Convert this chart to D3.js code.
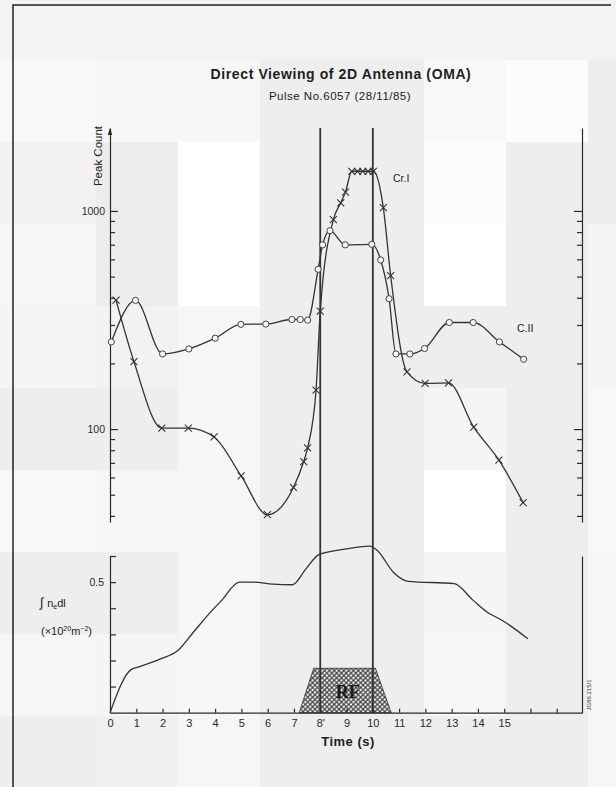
<!DOCTYPE html>
<meta charset="utf-8">
<script src="https://d3js.org/d3.v7.min.js"></script>

<div id="chart"></div>

<style>
  body { margin: 0; background: #f3f3f3; }
  svg { display: block; font-family: "Liberation Sans", Arial, sans-serif; }
  .axis path, .axis line { stroke: #2a2a2a; stroke-width: 1.2px; }
  .axis text { fill: #2a2a2a; font-size: 11px; }
</style>

<script>
  // Cr I peak count (crosses)
  const crTime = [0.23, 0.91, 1.97, 2.98, 3.96, 4.99, 5.99, 6.98, 7.37, 7.52, 7.84, 8.0, 8.5, 8.78, 8.96,
    9.2, 9.42, 9.62, 9.82, 10.02, 10.4, 10.68, 11.3, 11.99, 12.88, 13.84, 14.8, 15.72];
  const crCount = [390, 204, 101, 101, 92, 61, 40.5, 54, 71, 82, 151, 347, 912, 1090, 1220,
    1520, 1520, 1520, 1520, 1520, 1035, 505, 183, 162, 163, 102, 72, 46];

  // C II peak count (circles)
  const c2Time = [0.05, 0.97, 2.0, 3.0, 4.0, 4.98, 5.93, 6.92, 7.24, 7.52, 7.92, 8.09, 8.37, 8.95,
    9.96, 10.3, 10.62, 10.88, 11.41, 11.97, 12.91, 13.82, 14.82, 15.74];
  const c2Count = [251, 389, 221, 233, 261, 302, 303, 318, 318, 316, 540, 699, 812, 699,
    703, 596, 396, 221, 221, 234, 308, 308, 251, 209];

  // line density integral, 10^20 m^-2
  const neTime = [0, 0.8, 1.15, 1.92, 2.58, 3.15, 3.85, 4.25, 4.92, 5.45, 6.2, 6.94, 7.45, 7.95,
    8.85, 9.9, 10.18, 10.8, 11.35, 13.1, 13.8, 14.4, 14.9, 15.9];
  const neValue = [0, 0.165, 0.177, 0.206, 0.238, 0.305, 0.388, 0.43, 0.5, 0.5, 0.492, 0.49, 0.55, 0.605,
    0.625, 0.638, 0.62, 0.536, 0.503, 0.494, 0.432, 0.382, 0.355, 0.283];

  // RF pulse envelope
  const rfTime = [7.2, 7.75, 10.1, 10.7];
  const rfLevel = [0, 0.17, 0.17, 0];
  const rfEdges = [8, 10];

  const xTickLabels = ["0", "1", "2", "3", "4", "5", "6", "7", "8'", "9", "10", "11", "12", "13", "14", "15"];
  const countMajor = [100, 1000];
  const countMinor = [40, 50, 60, 70, 80, 90, 200, 300, 400, 500, 600, 700, 800, 900];
  const densTicks = [0.1, 0.2, 0.3, 0.4, 0.5, 0.6];

  // blotchy grey blocks of the scanned page (grey levels)
  const bgShade = [
    [243, 243, 243, 243, 243, 243, 243, 243],
    [248, 246, 247, 238, 238, 248, 252, 238],
    [242, 236, 255, 238, 238, 252, 238, 238],
    [246, 236, 255, 238, 238, 255, 238, 244],
    [245, 242, 246, 238, 238, 238, 238, 245],
    [238, 238, 246, 238, 238, 245, 238, 248],
    [248, 246, 246, 238, 238, 255, 238, 248],
    [238, 238, 246, 238, 238, 245, 238, 246],
    [246, 245, 246, 238, 238, 246, 238, 246],
    [238, 240, 246, 238, 238, 238, 238, 246]
  ];

  const width = 616, height = 787;

  const svg = d3.select("#chart")
    .append("svg")
    .attr("width", width)
    .attr("height", height);

  // background
  bgShade.forEach((row, i) => {
    row.forEach((g, j) => {
      svg.append("rect")
        .attr("x", j === 0 ? 0 : 14 + 82 * j)
        .attr("y", -22 + 82 * i)
        .attr("width", j === 0 ? 96 : 82)
        .attr("height", 82)
        .attr("fill", d3.rgb(g, g, g));
    });
  });

  // page frame
  svg.append("path")
    .attr("d", "M13,787V5H611")
    .attr("fill", "none")
    .attr("stroke", "#222")
    .attr("stroke-width", 1.5);

  // scales
  const x = d3.scaleLinear().domain([0, 17.96]).range([110, 582]);
  const yTop = d3.scaleLog().domain([37.5, 2400]).range([522, 128]);
  const yBot = d3.scaleLinear().domain([0, 0.6]).range([712.7, 556]);

  // hatch for RF box
  const defs = svg.append("defs");
  const pat = defs.append("pattern")
    .attr("id", "hatch")
    .attr("width", 3.4)
    .attr("height", 3.4)
    .attr("patternUnits", "userSpaceOnUse")
    .attr("patternTransform", "rotate(45)");
  pat.append("rect").attr("width", 3.4).attr("height", 3.4).attr("fill", "#4a4a4a");
  pat.append("circle").attr("cx", 1.7).attr("cy", 1.7).attr("r", 1.2).attr("fill", "#f2f2f2");

  const rfPts = rfTime.map((t, i) => [t, rfLevel[i]]);
  svg.append("path")
    .attr("d", d3.line().x(d => x(d[0])).y(d => yBot(d[1]))(rfPts) + "Z")
    .attr("fill", "url(#hatch)")
    .attr("stroke", "#333")
    .attr("stroke-width", 0.8);

  svg.append("text")
    .attr("x", x(9.05))
    .attr("y", 698)
    .attr("text-anchor", "middle")
    .style("font-family", "'Liberation Serif', 'DejaVu Serif', serif")
    .style("font-weight", "bold")
    .style("font-size", "18px")
    .attr("fill", "#1a1a1a")
    .text("RF");

  // RF on / off lines
  svg.selectAll(".rfline")
    .data(rfEdges)
    .join("line")
    .attr("x1", d => x(d)).attr("x2", d => x(d))
    .attr("y1", yTop(2400)).attr("y2", yBot(0))
    .attr("stroke", "#333")
    .attr("stroke-width", 1.8);

  // x axis
  svg.append("g")
    .attr("class", "axis")
    .attr("transform", `translate(0,${yBot(0)})`)
    .call(d3.axisBottom(x)
      .tickValues(d3.range(0, 18))
      .tickSize(-4)
      .tickSizeOuter(0)
      .tickPadding(7)
      .tickFormat(d => d < xTickLabels.length ? xTickLabels[d] : ""));

  // top panel axes (log)
  svg.append("g")
    .attr("class", "axis")
    .attr("transform", `translate(${x(0)},0)`)
    .call(d3.axisLeft(yTop).tickValues(countMajor).tickFormat(d3.format("d"))
      .tickSize(-8).tickSizeOuter(0).tickPadding(5))
    .selectAll("text").style("font-size", "10.5px");
  svg.append("g")
    .attr("class", "axis")
    .attr("transform", `translate(${x(0)},0)`)
    .call(d3.axisLeft(yTop).tickValues(countMinor).tickFormat("").tickSize(-5).tickSizeOuter(0))
    .select(".domain").remove();

  svg.append("g")
    .attr("class", "axis")
    .attr("transform", `translate(582,0)`)
    .call(d3.axisRight(yTop).tickValues(countMajor).tickFormat("").tickSize(-8).tickSizeOuter(0));
  svg.append("g")
    .attr("class", "axis")
    .attr("transform", `translate(582,0)`)
    .call(d3.axisRight(yTop).tickValues(countMinor).tickFormat("").tickSize(-5).tickSizeOuter(0))
    .select(".domain").remove();

  // arrow on top of left axis
  svg.append("path")
    .attr("d", `M${x(0)},${yTop(2400)}l-2.2,7h4.4z`)
    .attr("fill", "#222");

  // bottom panel axes
  svg.append("g")
    .attr("class", "axis")
    .attr("transform", `translate(${x(0)},0)`)
    .call(d3.axisLeft(yBot).tickValues(densTicks).tickSize(-6).tickSizeOuter(0).tickPadding(6)
      .tickFormat(d => d === 0.5 ? "0.5" : ""))
    .selectAll("text").style("font-size", "10.5px");
  svg.append("g")
    .attr("class", "axis")
    .attr("transform", `translate(582,0)`)
    .call(d3.axisRight(yBot).tickValues([]).tickSizeOuter(0));

  // curves
  const lineTop = d3.line().x(d => x(d[0])).y(d => yTop(d[1])).curve(d3.curveMonotoneX);
  const lineBot = d3.line().x(d => x(d[0])).y(d => yBot(d[1])).curve(d3.curveMonotoneX);

  const crPts = crTime.map((t, i) => [t, crCount[i]]);
  const c2Pts = c2Time.map((t, i) => [t, c2Count[i]]);
  const nePts = neTime.map((t, i) => [t, neValue[i]]);

  svg.append("path").attr("d", lineBot(nePts))
    .attr("fill", "none").attr("stroke", "#333").attr("stroke-width", 1.3);
  svg.append("path").attr("d", lineTop(c2Pts))
    .attr("fill", "none").attr("stroke", "#333").attr("stroke-width", 1.3);
  svg.append("path").attr("d", lineTop(crPts))
    .attr("fill", "none").attr("stroke", "#333").attr("stroke-width", 1.3);

  svg.append("g").selectAll("circle")
    .data(c2Pts)
    .join("circle")
    .attr("cx", d => x(d[0]))
    .attr("cy", d => yTop(d[1]))
    .attr("r", 3.1)
    .attr("fill", "#f4f4f4")
    .attr("stroke", "#444")
    .attr("stroke-width", 1);

  svg.append("g").selectAll("path")
    .data(crPts)
    .join("path")
    .attr("transform", d => `translate(${x(d[0])},${yTop(d[1])})`)
    .attr("d", "M-3.5,-3.5L3.5,3.5M-3.5,3.5L3.5,-3.5")
    .attr("stroke", "#333")
    .attr("stroke-width", 1.1);

  // texts
  svg.append("text")
    .attr("x", 341).attr("y", 79)
    .attr("text-anchor", "middle")
    .style("font-weight", "bold").style("font-size", "14px")
    .style("letter-spacing", "0.6px")
    .attr("fill", "#1e1e1e")
    .text("Direct Viewing of 2D Antenna (OMA)");
  svg.append("text")
    .attr("x", 340).attr("y", 99.5)
    .attr("text-anchor", "middle")
    .style("font-size", "11.5px")
    .style("letter-spacing", "0.5px")
    .attr("fill", "#222")
    .text("Pulse No.6057 (28/11/85)");

  svg.append("text")
    .attr("transform", "translate(102,156) rotate(-90)")
    .attr("text-anchor", "middle")
    .style("font-size", "11.5px")
    .attr("fill", "#222")
    .text("Peak Count");

  svg.append("text").attr("x", 393).attr("y", 182)
    .style("font-size", "10.5px").attr("fill", "#222").text("Cr.I");
  svg.append("text").attr("x", 517).attr("y", 332)
    .style("font-size", "10.5px").attr("fill", "#222").text("C.II");

  const ne = svg.append("text").attr("x", 40).attr("y", 607)
    .style("font-size", "11px").attr("fill", "#222");
  ne.append("tspan").style("font-size", "13px").text("∫ ");
  ne.append("tspan").text("n");
  ne.append("tspan").attr("dy", 2).style("font-size", "7px").text("e");
  ne.append("tspan").attr("dy", -2).text("dl");

  const unit = svg.append("text").attr("x", 41).attr("y", 635)
    .style("font-size", "11px").attr("fill", "#222");
  unit.append("tspan").text("(×10");
  unit.append("tspan").attr("dy", -4).style("font-size", "7px").text("20");
  unit.append("tspan").attr("dy", 4).text("m");
  unit.append("tspan").attr("dy", -4).style("font-size", "7px").text("−2");
  unit.append("tspan").attr("dy", 4).text(")");

  svg.append("text")
    .attr("x", 348).attr("y", 746)
    .attr("text-anchor", "middle")
    .style("font-weight", "bold").style("font-size", "13px")
    .style("letter-spacing", "0.5px")
    .attr("fill", "#1e1e1e")
    .text("Time (s)");

  svg.append("text")
    .attr("transform", "translate(591,695) rotate(-90)")
    .attr("text-anchor", "middle")
    .style("font-size", "6px")
    .attr("fill", "#333")
    .text("JG86.215/1");
</script>
